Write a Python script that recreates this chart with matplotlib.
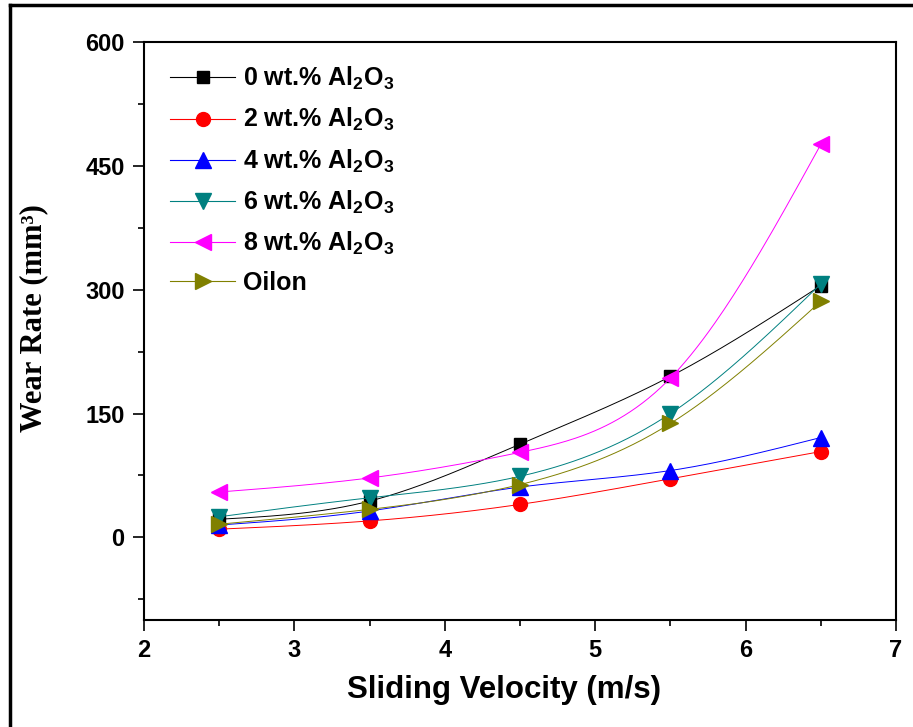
import numpy as np
import matplotlib
matplotlib.use('Agg')
import matplotlib.pyplot as plt
from matplotlib.lines import Line2D

plt.rcParams['font.family'] = ['Liberation Sans', 'DejaVu Sans']
plt.rcParams['mathtext.fontset'] = 'custom'
plt.rcParams['mathtext.rm'] = 'Liberation Sans:bold'
plt.rcParams['mathtext.it'] = 'Liberation Sans:bold'

# 数据
velocity = [2.5, 3.5, 4.5, 5.5, 6.5]
wt0 = [22, 44, 113, 195, 305]
wt2 = [10, 20, 40, 71, 104]
wt4 = [15, 32, 61, 81, 121]
wt6 = [25, 48, 74, 150, 307]
wt8 = [55, 72, 103, 193, 476]
oilon = [16, 34, 64, 138, 286]

labels = [r'0 wt.% Al$_2$O$_3$', r'2 wt.% Al$_2$O$_3$', r'4 wt.% Al$_2$O$_3$',
          r'6 wt.% Al$_2$O$_3$', r'8 wt.% Al$_2$O$_3$', 'Oilon']
colors = ['black', 'red', 'blue', '#008080', 'magenta', '#808000']
markers = ['s', 'o', '^', 'v', '<', '>']
msizes = [9, 10, 11, 11, 11, 11]


def spline(x, y, n=200):
    # 自然三次样条，只用于画平滑连线
    x = np.asarray(x, float)
    y = np.asarray(y, float)
    k = len(x)
    h = np.diff(x)
    A = np.zeros((k, k))
    b = np.zeros(k)
    A[0, 0] = A[-1, -1] = 1
    for i in range(1, k - 1):
        A[i, i - 1] = h[i - 1]
        A[i, i] = 2 * (h[i - 1] + h[i])
        A[i, i + 1] = h[i]
        b[i] = 6 * ((y[i + 1] - y[i]) / h[i] - (y[i] - y[i - 1]) / h[i - 1])
    M = np.linalg.solve(A, b)
    xs = np.linspace(x[0], x[-1], n)
    idx = np.clip(np.searchsorted(x, xs) - 1, 0, k - 2)
    x0, x1 = x[idx], x[idx + 1]
    hh = x1 - x0
    t0, t1 = x1 - xs, xs - x0
    ys = (M[idx] * t0 ** 3 + M[idx + 1] * t1 ** 3) / (6 * hh) \
        + (y[idx] / hh - M[idx] * hh / 6) * t0 \
        + (y[idx + 1] / hh - M[idx + 1] * hh / 6) * t1
    return xs, ys


fig = plt.figure(figsize=(9.13, 7.27), dpi=100)
ax = fig.add_axes([0.1577, 0.1472, 0.8237, 0.795])

series = [wt0, wt2, wt4, wt6, wt8, oilon]
handles = []
for y, c, m, ms, lab in zip(series, colors, markers, msizes, labels):
    xs, ys = spline(velocity, y)
    ax.plot(xs, ys, color=c, lw=0.7)
    ax.plot(velocity, y, linestyle='none', marker=m, color=c, ms=ms)
    handles.append(Line2D([], [], color=c, lw=0.8, marker=m, ms=ms, label=lab))

ax.set_xlim(2, 7)
ax.set_ylim(-100, 600)
ax.set_xticks([2, 3, 4, 5, 6, 7])
ax.set_xticks([2.5, 3.5, 4.5, 5.5, 6.5], minor=True)
ax.set_yticks([0, 150, 300, 450, 600])
ax.set_yticks([-75, 75, 225, 375, 525], minor=True)
ax.tick_params(which='major', direction='out', length=8, width=1.2, pad=6,
               labelsize=17)
ax.tick_params(which='minor', direction='out', length=4.5, width=1.2)
for lab in ax.get_xticklabels() + ax.get_yticklabels():
    lab.set_fontweight('bold')
for s in ax.spines.values():
    s.set_linewidth(1.5)

ax.set_ylabel('Wear Rate (mm³)', family='Liberation Serif', fontweight='bold',
              fontsize=22)
ax.yaxis.set_label_coords(-0.128, 0.523)
fig.text(504 / 913, 1 - 690 / 727, 'Sliding Velocity (m/s)', ha='center',
         va='center', fontsize=22.5, fontweight='bold')

ax.legend(handles=handles, loc='upper left', bbox_to_anchor=(0.005, 0.999),
          frameon=False, prop={'size': 18, 'weight': 'bold'}, handlelength=2.6,
          handletextpad=0.32, labelspacing=0.56)

# 外框
fig.add_artist(Line2D([10 / 913, 10 / 913], [0, 1 - 5 / 727], color='black',
                      lw=2.5, transform=fig.transFigure))
fig.add_artist(Line2D([10 / 913, 1], [1 - 5 / 727, 1 - 5 / 727], color='black',
                      lw=2.5, transform=fig.transFigure))

fig.savefig('out.png', dpi=100)
